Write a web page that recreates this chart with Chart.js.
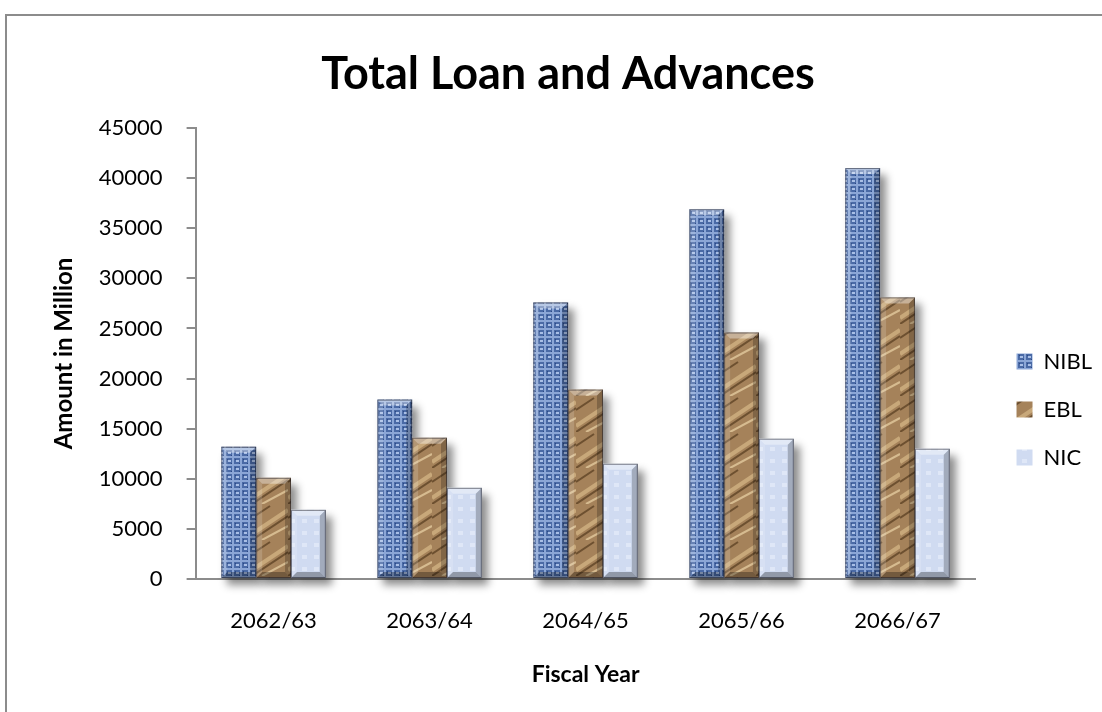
<!DOCTYPE html>
<html>
<head>
<meta charset="utf-8">
<script src="https://cdn.jsdelivr.net/npm/chart.js@4.4.1/dist/chart.umd.min.js"></script>
<style>
  html, body { margin: 0; padding: 0; background: #fff; }
  #wrap { width: 1102px; height: 712px; position: relative; }
</style>
</head>
<body>
<div id="wrap"><canvas id="c" width="1102" height="712"></canvas></div>
<script>
const years = ['2062/63', '2063/64', '2064/65', '2065/66', '2066/67'];
const nibl = [13200, 17900, 27600, 36900, 41000];
const ebl = [10100, 14100, 18900, 24600, 28100];
const nic = [6900, 9100, 11500, 14000, 13000];
const yTicks = [0, 5000, 10000, 15000, 20000, 25000, 30000, 35000, 40000, 45000];

// small tiles used as bar textures
function tile(size, paint) {
  const t = document.createElement('canvas');
  t.width = size; t.height = size;
  paint(t.getContext('2d'));
  return document.getElementById('c').getContext('2d').createPattern(t, 'repeat');
}

const blueWeave = tile(8, g => {
  g.fillStyle = '#4a6aa6'; g.fillRect(0, 0, 8, 8);
  g.fillStyle = '#8ba6d6'; g.fillRect(0, 0, 8, 2); g.fillRect(0, 0, 2, 8);
  g.fillStyle = '#a9bfe6'; g.fillRect(4, 4, 3, 2);
  g.fillStyle = '#2b4883'; g.fillRect(3, 3, 1, 1); g.fillRect(7, 7, 1, 1);
});

const brownRock = tile(36, g => {
  g.fillStyle = '#a5825a'; g.fillRect(0, 0, 36, 36);
  g.strokeStyle = '#c8a87a'; g.lineWidth = 4;
  g.beginPath(); g.moveTo(0, 30); g.lineTo(36, 6); g.stroke();
  g.strokeStyle = '#6d5030'; g.lineWidth = 2;
  g.beginPath(); g.moveTo(0, 36); g.lineTo(36, 12); g.stroke();
  g.beginPath(); g.moveTo(0, 14); g.lineTo(18, 2); g.stroke();
  g.strokeStyle = '#d6bb90'; g.lineWidth = 2;
  g.beginPath(); g.moveTo(10, 36); g.lineTo(36, 22); g.stroke();
});

const icePale = tile(12, g => {
  g.fillStyle = '#d0dbf1'; g.fillRect(0, 0, 12, 12);
  g.fillStyle = '#dfe7f7'; g.fillRect(2, 3, 5, 4);
});

const frame = {
  id: 'frame',
  beforeDraw(chart) {
    const ctx = chart.ctx;
    ctx.save();
    ctx.strokeStyle = '#8c8c8c';
    ctx.lineWidth = 2;
    ctx.strokeRect(6, 15, 1110, 720);
    ctx.restore();
  }
};

// nudge the legend to where the original sits
const legendShift = {
  id: 'legendShift',
  afterLayout(chart) {
    const lg = chart.legend;
    lg.left += 15; lg.right += 15;
    lg.top += 42; lg.bottom += 42;
  }
};

function eachBar(chart, fn) {
  chart.data.datasets.forEach((ds, i) => {
    chart.getDatasetMeta(i).data.forEach(el => {
      const p = el.getProps(['x', 'y', 'base', 'width'], true);
      fn(p.x - p.width / 2, p.y, p.width, p.base - p.y);
    });
  });
}

const bevel = {
  id: 'bevel',
  beforeDatasetsDraw(chart) {
    const ctx = chart.ctx;
    ctx.save();
    ctx.shadowColor = 'rgba(0,0,0,0.45)';
    ctx.shadowBlur = 8;
    ctx.shadowOffsetX = 6;
    ctx.shadowOffsetY = 7;
    ctx.fillStyle = '#fff';
    eachBar(chart, (x, y, w, h) => ctx.fillRect(x, y, w, h));
    ctx.restore();
  },
  afterDatasetsDraw(chart) {
    const ctx = chart.ctx;
    const b = 6;
    ctx.save();
    eachBar(chart, (x, y, w, h) => {
      const r = x + w, bt = y + h;
      ctx.fillStyle = 'rgba(255,255,255,0.38)';
      ctx.beginPath(); ctx.moveTo(x, y); ctx.lineTo(r, y); ctx.lineTo(r - b, y + b); ctx.lineTo(x + b, y + b); ctx.fill();
      ctx.fillStyle = 'rgba(255,255,255,0.16)';
      ctx.beginPath(); ctx.moveTo(x, y); ctx.lineTo(x + b, y + b); ctx.lineTo(x + b, bt - b); ctx.lineTo(x, bt); ctx.fill();
      ctx.fillStyle = 'rgba(0,0,0,0.22)';
      ctx.beginPath(); ctx.moveTo(r, y); ctx.lineTo(r, bt); ctx.lineTo(r - b, bt - b); ctx.lineTo(r - b, y + b); ctx.fill();
      ctx.fillStyle = 'rgba(0,0,0,0.3)';
      ctx.beginPath(); ctx.moveTo(x, bt); ctx.lineTo(r, bt); ctx.lineTo(r - b, bt - b); ctx.lineTo(x + b, bt - b); ctx.fill();
      ctx.strokeStyle = 'rgba(30,30,40,0.55)';
      ctx.lineWidth = 1;
      ctx.strokeRect(x + 0.5, y + 0.5, w - 1, h - 1);
    });
    ctx.restore();
  }
};

Chart.defaults.font.family = 'Lato, "Open Sans", sans-serif';
Chart.defaults.color = '#000';

new Chart(document.getElementById('c'), {
  type: 'bar',
  data: {
    labels: years,
    datasets: [
      { label: 'NIBL', data: nibl, backgroundColor: blueWeave },
      { label: 'EBL', data: ebl, backgroundColor: brownRock },
      { label: 'NIC', data: nic, backgroundColor: icePale }
    ]
  },
  options: {
    responsive: false,
    animation: false,
    layout: { padding: { left: 49, right: 15, top: 47, bottom: 24 } },
    datasets: { bar: { categoryPercentage: 0.67, barPercentage: 1, borderWidth: 0 } },
    plugins: {
      tooltip: { enabled: false },
      title: {
        display: true,
        text: 'Total Loan and Advances',
        font: { size: 45, weight: 'bold' },
        padding: { top: 0, bottom: 27 }
      },
      legend: {
        position: 'right',
        labels: {
          boxWidth: 16,
          boxHeight: 16,
          padding: 26,
          font: { size: 22 }
        }
      }
    },
    scales: {
      x: {
        grid: { display: false },
        border: { color: '#8c8c8c', width: 2 },
        ticks: { padding: 21, font: { size: 22 } },
        title: { display: true, text: 'Fiscal Year', font: { size: 23, weight: 'bold' }, padding: { top: 5, bottom: 0 } }
      },
      y: {
        min: 0,
        max: 45000,
        afterBuildTicks(axis) { axis.ticks = yTicks.map(v => ({ value: v })); },
        grid: { drawOnChartArea: false, drawTicks: true, tickLength: 9, color: '#8c8c8c', lineWidth: 2 },
        border: { color: '#8c8c8c', width: 2 },
        ticks: { padding: 24, font: { size: 22 }, callback: v => String(v) },
        title: { display: true, text: 'Amount in Million', font: { size: 24, weight: 'bold' }, padding: { top: 1, bottom: -4 } }
      }
    }
  },
  plugins: [frame, legendShift, bevel]
});
</script>
</body>
</html>
